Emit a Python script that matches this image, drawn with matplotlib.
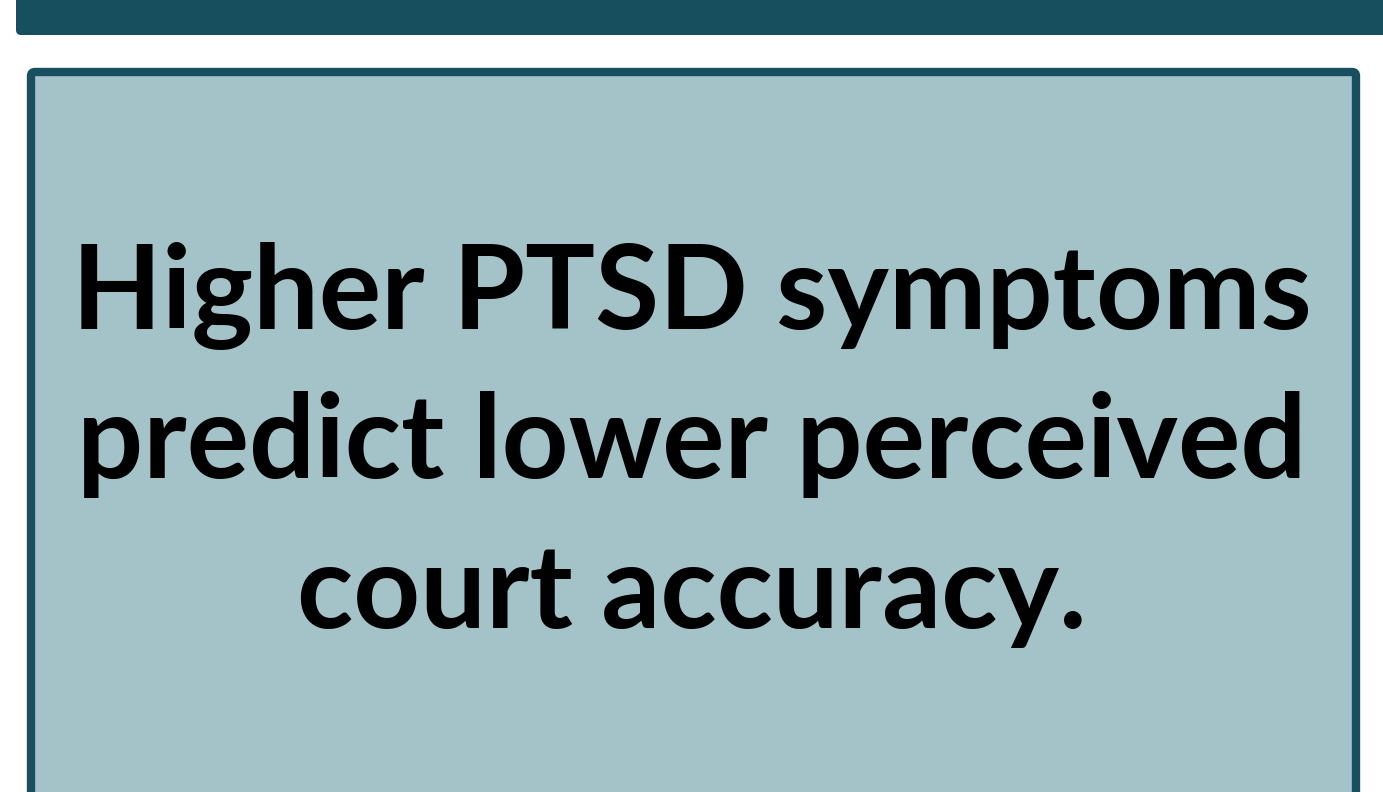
import matplotlib
matplotlib.use("Agg")
import matplotlib.pyplot as plt
from matplotlib.patches import FancyBboxPatch

lines = ["Higher PTSD symptoms", "predict lower perceived", "court accuracy."]
line_y = [296, 445, 594]

dark = "#174F5F"
fill = "#A3C3C9"

fig = plt.figure(figsize=(13.83, 7.92), dpi=100)
ax = fig.add_axes([0, 0, 1, 1])
ax.set_xlim(0, 1383)
ax.set_ylim(792, 0)
ax.axis("off")

# top bar
ax.add_patch(FancyBboxPatch((16, -20), 1400, 55, boxstyle="round,pad=0,rounding_size=5",
                            facecolor=dark, edgecolor="none"))
# main box
ax.add_patch(FancyBboxPatch((31, 72), 1325, 760, boxstyle="round,pad=0,rounding_size=4",
                            facecolor=fill, edgecolor=dark, linewidth=6))

for t, y in zip(lines, line_y):
    ax.text(692, y, t, ha="center", va="center", fontsize=84, fontweight="bold",
            family=["Lato", "DejaVu Sans"], color="black")

fig.savefig("out.png", dpi=100)
